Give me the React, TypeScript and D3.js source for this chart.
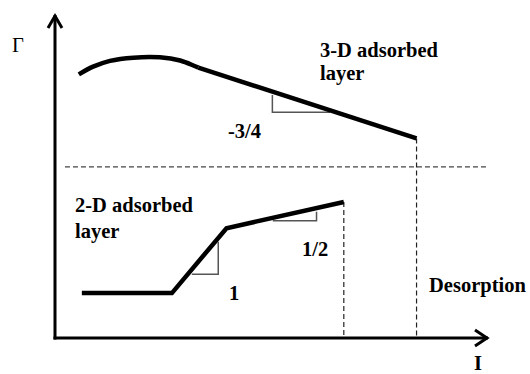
import React from "react";
import * as d3 from "d3";

// Schematic adsorption isotherm: surface excess Γ versus log concentration I.
// Coordinates are in arbitrary units (0–100 on both axes).

// 3-D adsorbed layer: rounded rise to a maximum, then a straight decline
const upperArcX = [5.5, 8.8, 12.7, 18.1, 24.2, 28.9, 33.1];
const upperArcY = [81.6, 84.0, 85.8, 86.8, 86.9, 85.9, 83.7];
const upperLineX = [33.1, 83.5];
const upperLineY = [83.7, 61.8];

// 2-D adsorbed layer: plateau, steep rise, then gentle rise
const lowerX = [6.2, 27.0, 39.6, 66.7];
const lowerY = [13.9, 13.9, 34.0, 42.1];

// Reference lines
const boundaryY = 53.0;
const boundaryX = [2.3, 100];
const dropX = [66.7, 83.5];
const dropTopY = [42.1, 61.8];

// Slope triangles: corner point, vertical leg top, horizontal leg far end
const triCornerX = [50.2, 37.7, 60.4];
const triCornerY = [69.9, 19.7, 36.3];
const triTopY = [75.2, 29.8, 39.1];
const triEndX = [63.5, 31.6, 50.3];

// Slope labels
const slopeLabels = ["-3/4", "1", "1/2"];

const W = 530;
const H = 374;

const FONT = "'Liberation Serif', 'Times New Roman', serif";

export default function App() {
  const x = d3.scaleLinear().domain([0, 100]).range([55, 488]);
  const y = d3.scaleLinear().domain([0, 100]).range([338, 15]);

  const pts = (xs: number[], ys: number[]) =>
    xs.map((v, i) => [v, ys[i]] as [number, number]);

  const smooth = d3
    .line<[number, number]>()
    .x((d) => x(d[0]))
    .y((d) => y(d[1]))
    .curve(d3.curveCatmullRom.alpha(0.5));
  const straight = d3
    .line<[number, number]>()
    .x((d) => x(d[0]))
    .y((d) => y(d[1]));

  const x0 = x(0);
  const y0 = y(0);
  const xEnd = x(100);
  const yEnd = y(100);

  const Label = (p: { x: number; y: number; bold?: boolean; children: React.ReactNode }) => (
    <text
      x={p.x}
      y={p.y}
      style={{
        fontFamily: FONT,
        fontWeight: p.bold === false ? 400 : 700,
        fontSize: "20.5px",
      }}
      fill="#000"
    >
      {p.children}
    </text>
  );

  return (
    <svg
      width={W}
      height={H}
      style={{ position: "absolute", left: 0, top: 0, background: "#fff" }}
    >
      {/* dashed boundary between the two regimes */}
      <line
        x1={x(boundaryX[0])}
        x2={x(boundaryX[1])}
        y1={y(boundaryY)}
        y2={y(boundaryY)}
        stroke="#444"
        strokeWidth={1.2}
        strokeDasharray="5,3"
      />
      {/* dashed drops to the axis */}
      {dropX.map((dx, i) => (
        <line
          key={i}
          x1={x(dx)}
          x2={x(dx)}
          y1={y(dropTopY[i])}
          y2={y0}
          stroke="#222"
          strokeWidth={1.2}
          strokeDasharray="5,3"
        />
      ))}

      {/* slope triangles */}
      {triCornerX.map((cx, i) => (
        <polyline
          key={i}
          points={`${x(cx)},${y(triTopY[i])} ${x(cx)},${y(triCornerY[i])} ${x(
            triEndX[i]
          )},${y(triCornerY[i])}`}
          fill="none"
          stroke="#555"
          strokeWidth={1.5}
        />
      ))}

      {/* curves */}
      <path
        d={smooth(pts(upperArcX, upperArcY)) || ""}
        fill="none"
        stroke="#000"
        strokeWidth={4.5}
      />
      <path
        d={straight(pts(upperLineX, upperLineY)) || ""}
        fill="none"
        stroke="#000"
        strokeWidth={4.5}
      />
      <path
        d={straight(pts(lowerX, lowerY)) || ""}
        fill="none"
        stroke="#000"
        strokeWidth={4.5}
        strokeLinejoin="miter"
      />

      {/* axes */}
      <line x1={x0} x2={x0} y1={y0 + 1.5} y2={yEnd} stroke="#000" strokeWidth={3} />
      <line x1={x0 - 1.5} x2={xEnd} y1={y0} y2={y0} stroke="#000" strokeWidth={3} />
      <polyline
        points={`${x0 - 7},${yEnd + 13} ${x0},${yEnd + 1} ${x0 + 7},${yEnd + 13}`}
        fill="none"
        stroke="#000"
        strokeWidth={3}
      />
      <polyline
        points={`${xEnd - 13},${y0 - 8} ${xEnd - 1},${y0} ${xEnd - 13},${y0 + 8}`}
        fill="none"
        stroke="#000"
        strokeWidth={3}
      />

      {/* axis labels */}
      <Label x={12} y={51.7} bold={false}>
        Γ
      </Label>
      <Label x={474} y={369.5}>
        I
      </Label>

      {/* region labels */}
      <Label x={320} y={56.7}>3-D adsorbed</Label>
      <Label x={320} y={80}>layer</Label>
      <Label x={75} y={211.7}>2-D adsorbed</Label>
      <Label x={75} y={237.7}>layer</Label>
      <Label x={429} y={291.7}>Desorption</Label>

      {/* slope labels */}
      <Label x={228} y={138.3}>{slopeLabels[0]}</Label>
      <Label x={229} y={300}>{slopeLabels[1]}</Label>
      <Label x={302} y={256}>{slopeLabels[2]}</Label>
    </svg>
  );
}
